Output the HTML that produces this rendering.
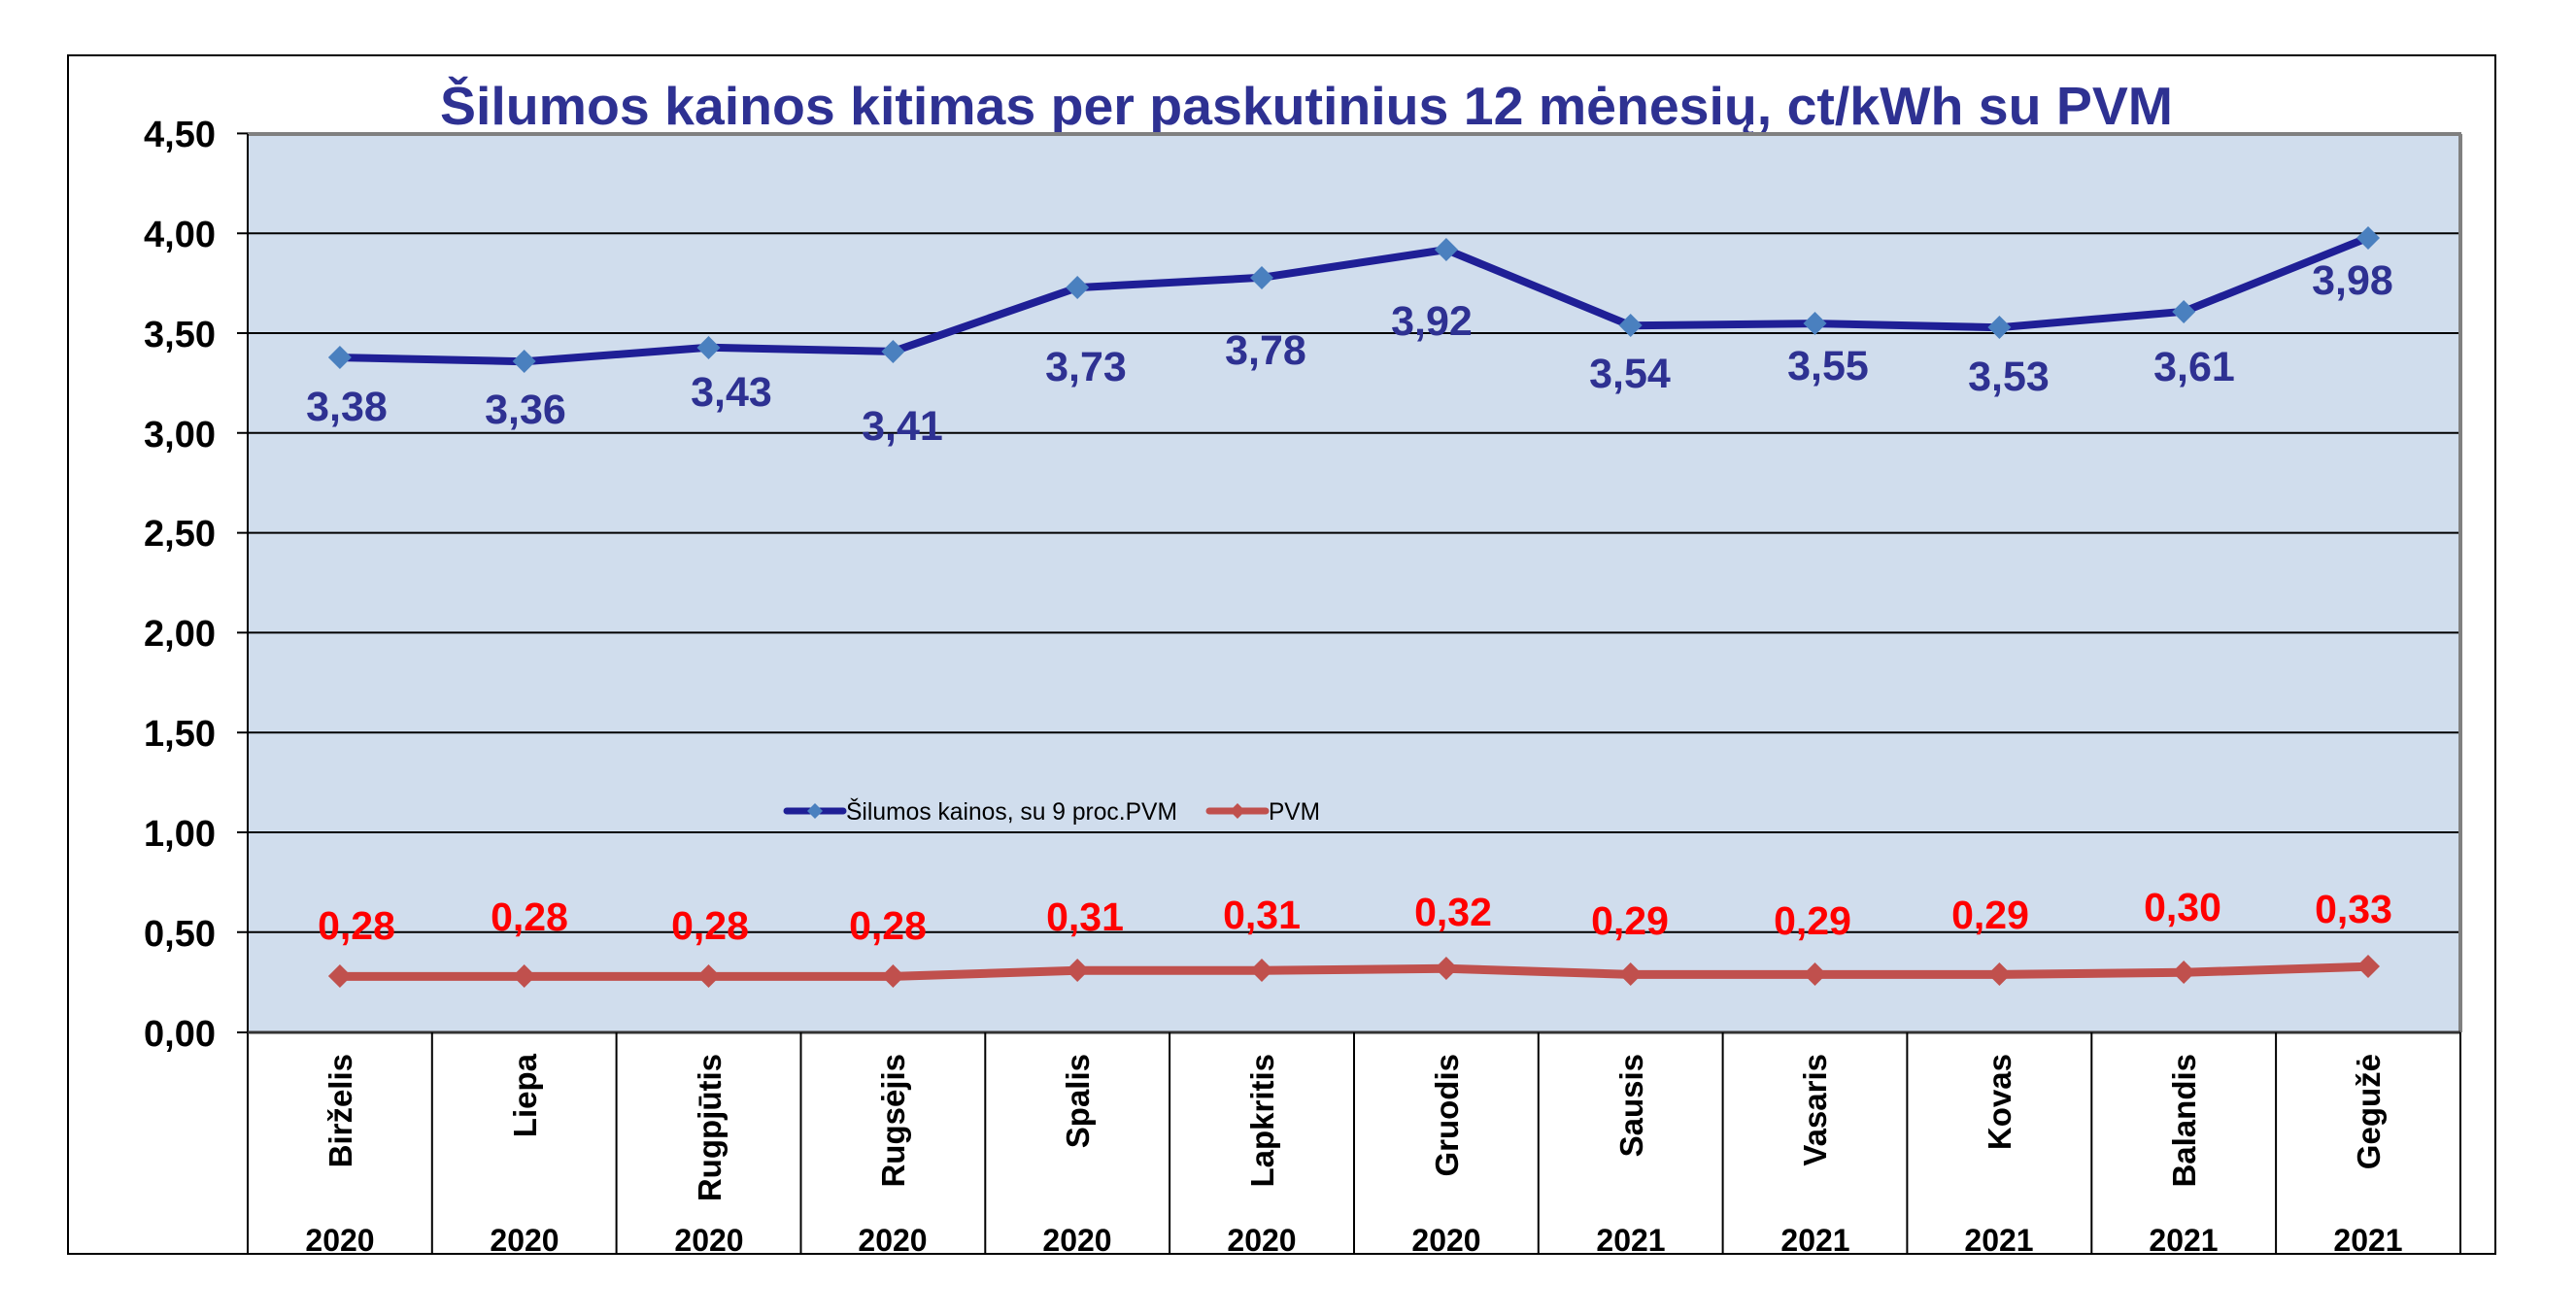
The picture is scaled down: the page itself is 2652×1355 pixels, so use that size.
<!DOCTYPE html>
<html><head><meta charset="utf-8"><style>html,body{margin:0;padding:0;background:#fff}svg{display:block}</style></head>
<body>
<svg width="2652" height="1355" viewBox="0 0 2652 1355" xmlns="http://www.w3.org/2000/svg" font-family="Liberation Sans, Arial, sans-serif">
<rect x="70" y="57" width="2499" height="1234" fill="#fff" stroke="#000" stroke-width="2"/>
<text x="1345" y="128" text-anchor="middle" font-size="55" font-weight="bold" fill="#2e3192" textLength="1784" lengthAdjust="spacingAndGlyphs">Šilumos kainos kitimas per paskutinius 12 mėnesių, ct/kWh su PVM</text>
<rect x="255" y="138" width="2278" height="925" fill="#d0dded"/>
<g stroke="#000" stroke-width="2">
<line x1="244" y1="240.2" x2="2533" y2="240.2"/>
<line x1="244" y1="343" x2="2533" y2="343"/>
<line x1="244" y1="445.8" x2="2533" y2="445.8"/>
<line x1="244" y1="548.6" x2="2533" y2="548.6"/>
<line x1="244" y1="651.4" x2="2533" y2="651.4"/>
<line x1="244" y1="754.2" x2="2533" y2="754.2"/>
<line x1="244" y1="857" x2="2533" y2="857"/>
<line x1="244" y1="959.8" x2="2533" y2="959.8"/>
<line x1="244" y1="137.4" x2="255" y2="137.4"/>
<line x1="244" y1="1063" x2="255" y2="1063"/>
</g>
<line x1="255" y1="138" x2="2534" y2="138" stroke="#808080" stroke-width="4"/>
<line x1="2533" y1="138" x2="2533" y2="1063" stroke="#808080" stroke-width="4"/>
<line x1="255" y1="138" x2="255" y2="1291" stroke="#000" stroke-width="2"/>
<line x1="255" y1="1063" x2="2533" y2="1063" stroke="#333" stroke-width="3"/>
<g stroke="#000" stroke-width="2">
<line x1="444.8" y1="1063" x2="444.8" y2="1291"/><line x1="634.6" y1="1063" x2="634.6" y2="1291"/><line x1="824.5" y1="1063" x2="824.5" y2="1291"/><line x1="1014.3" y1="1063" x2="1014.3" y2="1291"/><line x1="1204.1" y1="1063" x2="1204.1" y2="1291"/><line x1="1394" y1="1063" x2="1394" y2="1291"/><line x1="1583.8" y1="1063" x2="1583.8" y2="1291"/><line x1="1773.6" y1="1063" x2="1773.6" y2="1291"/><line x1="1963.4" y1="1063" x2="1963.4" y2="1291"/><line x1="2153.3" y1="1063" x2="2153.3" y2="1291"/><line x1="2343.1" y1="1063" x2="2343.1" y2="1291"/><line x1="2533" y1="1063" x2="2533" y2="1291"/>
</g>
<g font-size="38" font-weight="bold" fill="#000" text-anchor="end">
<text x="222" y="151">4,50</text><text x="222" y="254">4,00</text><text x="222" y="357">3,50</text><text x="222" y="460">3,00</text><text x="222" y="562">2,50</text><text x="222" y="665">2,00</text><text x="222" y="768">1,50</text><text x="222" y="871">1,00</text><text x="222" y="974">0,50</text><text x="222" y="1077">0,00</text>
</g>
<polyline fill="none" stroke="#c0504d" stroke-width="9" stroke-linejoin="round" points="349.9,1005.4 539.7,1005.4 729.5,1005.4 919.4,1005.4 1109.2,999.3 1299,999.3 1488.9,997.2 1678.7,1003.4 1868.5,1003.4 2058.4,1003.4 2248.2,1001.3 2438,995.2"/>
<g fill="#c0504d">
<path d="M349.9,993 l12,12 l-12,12 l-12,-12z"/><path d="M539.7,993 l12,12 l-12,12 l-12,-12z"/><path d="M729.5,993 l12,12 l-12,12 l-12,-12z"/><path d="M919.4,993 l12,12 l-12,12 l-12,-12z"/><path d="M1109.2,987 l12,12 l-12,12 l-12,-12z"/><path d="M1299,987 l12,12 l-12,12 l-12,-12z"/><path d="M1488.9,985 l12,12 l-12,12 l-12,-12z"/><path d="M1678.7,991 l12,12 l-12,12 l-12,-12z"/><path d="M1868.5,991 l12,12 l-12,12 l-12,-12z"/><path d="M2058.4,991 l12,12 l-12,12 l-12,-12z"/><path d="M2248.2,989 l12,12 l-12,12 l-12,-12z"/><path d="M2438,983 l12,12 l-12,12 l-12,-12z"/>
</g>
<polyline fill="none" stroke="#1f1f96" stroke-width="8" stroke-linejoin="round" points="349.9,368.1 539.7,372.2 729.5,357.8 919.4,361.9 1109.2,296.1 1299,285.8 1488.9,257.0 1678.7,335.2 1868.5,333.1 2058.4,337.2 2248.2,320.8 2438,244.7"/>
<g fill="#4a80bf">
<path d="M349.9,356 l12,12 l-12,12 l-12,-12z"/><path d="M539.7,360 l12,12 l-12,12 l-12,-12z"/><path d="M729.5,346 l12,12 l-12,12 l-12,-12z"/><path d="M919.4,350 l12,12 l-12,12 l-12,-12z"/><path d="M1109.2,284 l12,12 l-12,12 l-12,-12z"/><path d="M1299,274 l12,12 l-12,12 l-12,-12z"/><path d="M1488.9,245 l12,12 l-12,12 l-12,-12z"/><path d="M1678.7,323 l12,12 l-12,12 l-12,-12z"/><path d="M1868.5,321 l12,12 l-12,12 l-12,-12z"/><path d="M2058.4,325 l12,12 l-12,12 l-12,-12z"/><path d="M2248.2,309 l12,12 l-12,12 l-12,-12z"/><path d="M2438,233 l12,12 l-12,12 l-12,-12z"/>
</g>
<g font-size="43" font-weight="bold" fill="#2e3192" text-anchor="middle">
<text x="357" y="433">3,38</text><text x="541" y="436">3,36</text><text x="753" y="418">3,43</text><text x="929" y="453">3,41</text><text x="1118" y="392">3,73</text><text x="1303" y="375">3,78</text><text x="1474" y="345">3,92</text><text x="1678" y="399">3,54</text><text x="1882" y="391">3,55</text><text x="2068" y="402">3,53</text><text x="2259" y="392">3,61</text><text x="2422" y="303">3,98</text>
</g>
<g font-size="41" font-weight="bold" fill="#ff0000" text-anchor="middle">
<text x="367" y="967">0,28</text><text x="545" y="958">0,28</text><text x="731" y="967">0,28</text><text x="914" y="967">0,28</text><text x="1117" y="958">0,31</text><text x="1299" y="956">0,31</text><text x="1496" y="953">0,32</text><text x="1678" y="962">0,29</text><text x="1866" y="962">0,29</text><text x="2049" y="956">0,29</text><text x="2247" y="948">0,30</text><text x="2423" y="950">0,33</text>
</g>
<line x1="810" y1="835" x2="868" y2="835" stroke="#1f1f96" stroke-width="7" stroke-linecap="round"/>
<path d="M839,827 l8,8 l-8,8 l-8,-8z" fill="#4a80bf"/>
<text x="871" y="844" font-size="25" fill="#000" textLength="341" lengthAdjust="spacingAndGlyphs">Šilumos kainos, su 9 proc.PVM</text>
<line x1="1245" y1="835" x2="1303" y2="835" stroke="#c0504d" stroke-width="7" stroke-linecap="round"/>
<path d="M1274,827 l8,8 l-8,8 l-8,-8z" fill="#c0504d"/>
<text x="1306" y="844" font-size="25" fill="#000" textLength="53" lengthAdjust="spacingAndGlyphs">PVM</text>
<g font-size="33" font-weight="bold" fill="#000" text-anchor="end">
<text transform="translate(362,1085) rotate(-90)">Birželis</text>
<text transform="translate(552,1085) rotate(-90)">Liepa</text>
<text transform="translate(742,1085) rotate(-90)">Rugpjūtis</text>
<text transform="translate(931,1085) rotate(-90)">Rugsėjis</text>
<text transform="translate(1121,1085) rotate(-90)">Spalis</text>
<text transform="translate(1311,1085) rotate(-90)">Lapkritis</text>
<text transform="translate(1501,1085) rotate(-90)">Gruodis</text>
<text transform="translate(1691,1085) rotate(-90)">Sausis</text>
<text transform="translate(1880,1085) rotate(-90)">Vasaris</text>
<text transform="translate(2070,1085) rotate(-90)">Kovas</text>
<text transform="translate(2260,1085) rotate(-90)">Balandis</text>
<text transform="translate(2450,1085) rotate(-90)">Gegužė</text>
</g>
<g font-size="32" font-weight="bold" fill="#000" text-anchor="middle">
<text x="350" y="1288">2020</text><text x="540" y="1288">2020</text><text x="730" y="1288">2020</text><text x="919" y="1288">2020</text><text x="1109" y="1288">2020</text><text x="1299" y="1288">2020</text><text x="1489" y="1288">2020</text><text x="1679" y="1288">2021</text><text x="1869" y="1288">2021</text><text x="2058" y="1288">2021</text><text x="2248" y="1288">2021</text><text x="2438" y="1288">2021</text>
</g>
</svg>
</body></html>
